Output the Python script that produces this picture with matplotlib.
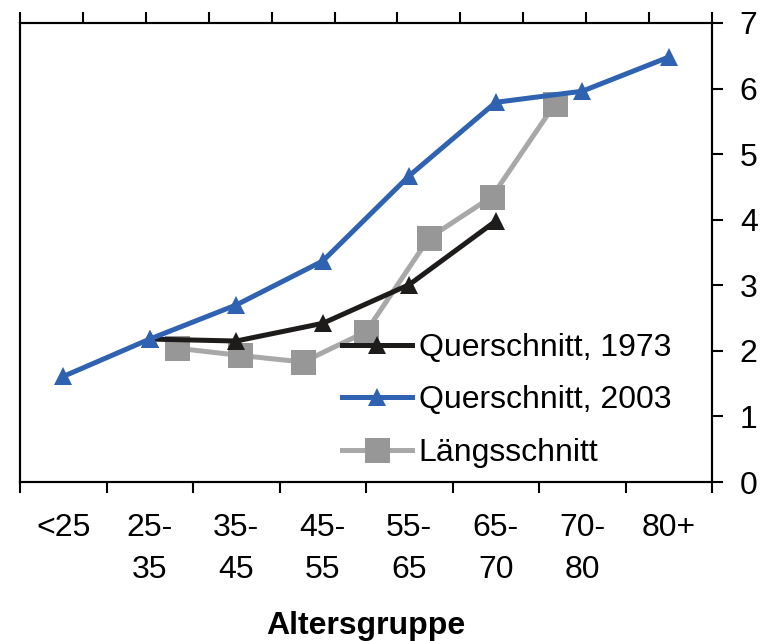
import matplotlib
matplotlib.use("Agg")
import matplotlib.pyplot as plt
from matplotlib.lines import Line2D

plt.rcParams['font.family'] = ['Liberation Sans', 'DejaVu Sans']

# ---- data ----
age_groups = ["<25", "25-\n35", "35-\n45", "45-\n55", "55-\n65", "65-\n70", "70-\n80", "80+"]
quer2003 = [1.61, 2.18, 2.70, 3.37, 4.67, 5.79, 5.96, 6.48]
quer1973_idx = [1, 2, 3, 4, 5]
quer1973 = [2.18, 2.15, 2.42, 3.01, 3.98]
# Längsschnitt plotted on a secondary (top) category axis with 11 slots
n_long_slots = 11
laengs_idx = [2, 3, 4, 5, 6, 7, 8]
laengs = [2.04, 1.93, 1.83, 2.29, 3.72, 4.35, 5.76]
y_ticks = [0, 1, 2, 3, 4, 5, 6, 7]
labels = ["Querschnitt, 1973", "Querschnitt, 2003", "Längsschnitt"]
xlabel = "Altersgruppe"

BLUE = "#2F62B0"
BLACK = "#1E1B1B"
GRAY_LINE = "#A8A8A8"
GRAY_MARK = "#979797"
FS = 23

fig = plt.figure(figsize=(7.64, 6.41), dpi=100)
ax = fig.add_axes([20/764, 1-482/641, 692/764, 459/641])
ax2 = ax.twiny()

LW = 3.6
TRI = 13
SQ = 18

# secondary axis (top) with gray series, drawn beneath the primary series
ax2.plot(laengs_idx, laengs, color=GRAY_LINE, lw=LW, marker='s', ms=SQ,
         mfc=GRAY_MARK, mec=GRAY_MARK, mew=0, solid_capstyle='round')
ax2.set_xlim(-0.5, n_long_slots - 0.5)
ax2.set_xticks([i - 0.5 for i in range(n_long_slots + 1)])
ax2.set_xticklabels([])
ax2.tick_params(axis='x', direction='out', length=8, width=1.5, color='black', top=True)

ax.set_zorder(ax2.get_zorder() + 1)
ax.patch.set_visible(False)

x_all = list(range(len(age_groups)))
ax.plot(quer1973_idx, quer1973, color=BLACK, lw=LW, marker='^', ms=TRI,
        mfc=BLACK, mec=BLACK, mew=0)
ax.plot(x_all, quer2003, color=BLUE, lw=LW, marker='^', ms=TRI,
        mfc=BLUE, mec=BLUE, mew=0)

ax.set_xlim(-0.5, len(age_groups) - 0.5)
ax.set_ylim(0, 7)
ax.set_xticks([i - 0.5 for i in range(len(age_groups) + 1)])
ax.set_xticklabels([])
ax.set_xticks(x_all, minor=True)
ax.set_xticklabels(age_groups, minor=True, fontsize=FS, linespacing=1.52)
ax.tick_params(axis='x', which='major', direction='out', length=8, width=1.5, bottom=True)
ax.tick_params(axis='x', which='minor', length=0, pad=22)

ax.yaxis.tick_right()
ax.set_yticks(y_ticks)
ax.set_yticklabels([str(v) for v in y_ticks], fontsize=FS)
ax.tick_params(axis='y', direction='out', length=8, width=1.5, pad=12, left=False, right=True)

for a in (ax, ax2):
    for s in a.spines.values():
        s.set_linewidth(1.5)
        s.set_color('black')

handles = [
    Line2D([], [], color=BLACK, lw=LW, marker='^', ms=TRI, mfc=BLACK, mec=BLACK, mew=0),
    Line2D([], [], color=BLUE, lw=LW, marker='^', ms=TRI, mfc=BLUE, mec=BLUE, mew=0),
    Line2D([], [], color=GRAY_LINE, lw=LW, marker='s', ms=SQ, mfc=GRAY_MARK, mec=GRAY_MARK, mew=0),
]
leg = ax.legend(handles, labels, loc='upper left', bbox_to_anchor=(342/764, 1-333/641),
                bbox_transform=fig.transFigure, frameon=False, fontsize=FS,
                handlelength=2.2, handletextpad=0.2, labelspacing=0.70,
                borderpad=0, borderaxespad=0, numpoints=1)

fig.text(366/764, 1-626/641, xlabel, fontsize=FS, fontweight='bold', ha='center', va='center')

fig.savefig("out.png", dpi=100)
